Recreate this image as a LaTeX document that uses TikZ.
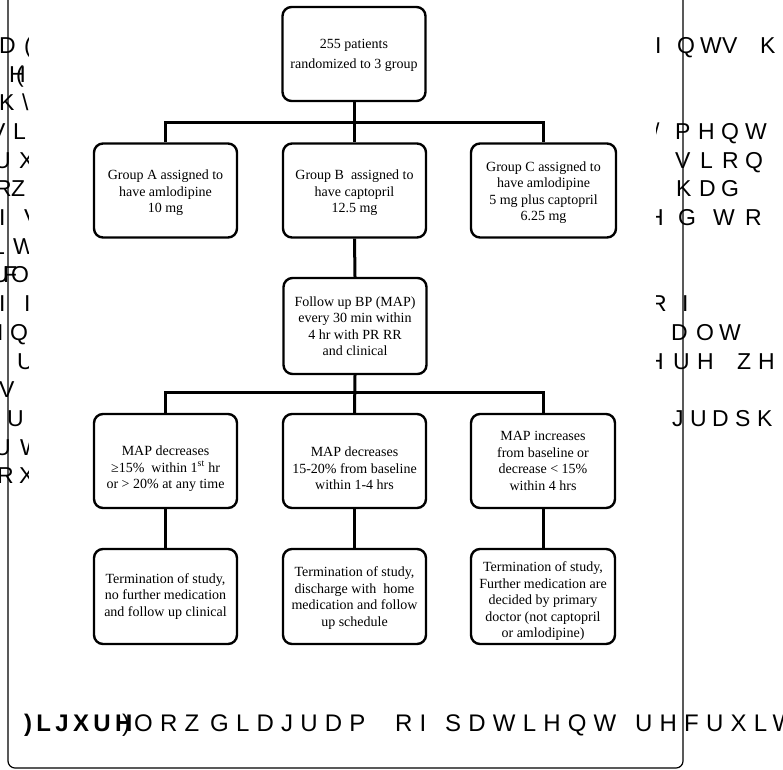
\documentclass[tikz,border=0pt]{standalone}
\usepackage{fontspec}
\setmainfont{Liberation Serif}
\newfontfamily\garb{Liberation Sans}
\newfontfamily\garbsp[LetterSpace=30]{Liberation Sans}
\newfontfamily\garbbd[LetterSpace=18]{Liberation Sans}
\begin{document}
\begin{tikzpicture}[x=1pt,y=-1pt,
  box/.style={draw, line width=2.4pt, rounded corners=9pt, minimum width=143pt, minimum height=94pt,
              align=center, font=\fontsize{14}{16.5}\selectfont, inner sep=2pt},
  conn/.style={line width=3pt},
  gl/.style={font=\garb\fontsize{23}{23}\selectfont, anchor=base west, inner sep=0pt},
  capt/.style={anchor=base west, inner sep=0pt, font=\garbsp\fontsize{24}{24}\selectfont}]
\useasboundingbox (0,0) rectangle (783,769);

% page frame
\draw[line width=1.2pt, rounded corners=7pt] (8,-20) -- (8,768) -- (683,768) -- (683,-20);

% clipped garbled side text
\begin{scope}
\clip (0,0) rectangle (28,769);
\foreach \x/\k/\c [count=\i] in {-1/0/D, 24/0/(, 9/1/H, 16/1/(, -1/2/K, 22/2/\textbackslash, -10/3/V, 13/3/L,
  -6/4/U, 19/4/X, -5/5/R, 11/5/Z, -1/6/I, 24/6/V, -8/7/L, 13/7/W, -8/8/U, 3/8/F, 11/8/O, -1/9/I, 24/9/I,
  -3/10/I, 10/10/Q, 17/11/U, -1/12/V, 7/13/U, -6/14/U, 20/14/W, -3/15/R, 19/15/X}
  \node[gl] (L\i) at (\x,53.3+28.7*\k) {\c};
\end{scope}
\begin{scope}
\clip (656,0) rectangle (783,769);
\foreach \x/\k/\c [count=\i] in {655/0/I, 677/0/Q, 700/0/W, 722/0/V, 760/0/K,
  653/3/\slash, 675/3/P, 698/3/H, 721/3/Q, 745/3/W,
  675/4/V, 700/4/L, 722/4/R, 745/4/Q,
  676/5/K, 699/5/D, 721/5/G,
  647/6/H, 678/6/G, 713/6/W, 745/6/R,
  650/9/R, 682/9/I,
  671/10/D, 696/10/O, 719/10/W,
  647/11/H, 673/11/U, 697/11/H, 737/11/Z, 758/11/H,
  672/13/J, 690/13/U, 712/13/D, 735/13/S, 757/13/K}
  \node[gl] (R\i) at (\x,53.3+28.7*\k) {\c};
\end{scope}

% caption
\node[capt, font=\garbbd\bfseries\fontsize{24}{24}\selectfont] (c1) at (24,731) {)LJXUH};
\node[capt] (c2a) at (122,731) {)};
\node[capt] (c2) at (134,731) {ORZ};
\node[capt] (c3) at (210,731) {GLDJUDP};
\node[capt] (c4) at (395,731) {RI};
\node[capt] (c5) at (445,731) {SDWLHQW};
\node[capt] (c6) at (635,731) {UHFUXLW};

% boxes
\node[box] (top) at (354,54) {\rule{0pt}{12pt}255 patients\\[3.5pt]randomized to 3 group};
\node[box] (gA) at (165.5,190.5) {\rule{0pt}{15pt}Group A assigned to\\have amlodipine\\10 mg};
\node[box] (gB) at (354.5,190.5) {\rule{0pt}{15pt}Group B~ assigned to\\have captopril\\12.5 mg};
\node[box, minimum width=145pt] (gC) at (543.5,190.5) {\rule{0pt}{14pt}Group C assigned to\\have amlodipine\\5 mg plus captopril\\6.25 mg};
\node[box, minimum height=96pt] (fu) at (355,326) {Follow up BP (MAP)\\every 30 min within\\4 hr with PR RR\\and clinical};
\node[box] (mA) at (165.5,461) {\rule{0pt}{25pt}MAP decreases\\≥15\%~ within 1\textsuperscript{st} hr\\or > 20\% at any time};
\node[box] (mB) at (354.5,461) {\rule{0pt}{25pt}MAP decreases\\15-20\% from baseline\\within 1-4 hrs};
\node[box, minimum width=144pt] (mC) at (543,461) {MAP increases\\from baseline or\\decrease < 15\%\\within 4 hrs};
\node[box, minimum height=95pt] (tA) at (165.5,596.5) {Termination of study,\\no further medication\\and follow up clinical};
\node[box, minimum height=95pt] (tB) at (354.5,596.5) {\rule{0pt}{13pt}Termination of study,\\discharge with~ home\\medication and follow\\up schedule};
\node[box, minimum height=95pt, minimum width=144pt] (tC) at (543,596.5) {\rule{0pt}{19pt}Termination of study,\\Further medication are\\decided by primary\\doctor (not captopril\\or amlodipine)};

% connectors
\draw[conn] (top.south) -- (top.south |- gB.north);
\draw[conn] (gA.north) -- ++(0,-20) -| (gC.north);
\draw[conn] (gB.south) -- (fu.north);
\draw[conn] (fu.south) -- (mB.north);
\draw[conn] (mA.north) -- ++(0,-20) -| (mC.north);
\draw[conn] (mA.south) -- (tA.north);
\draw[conn] (mB.south) -- (tB.north);
\draw[conn] (mC.south) -- (tC.north);
\end{tikzpicture}
\end{document}
